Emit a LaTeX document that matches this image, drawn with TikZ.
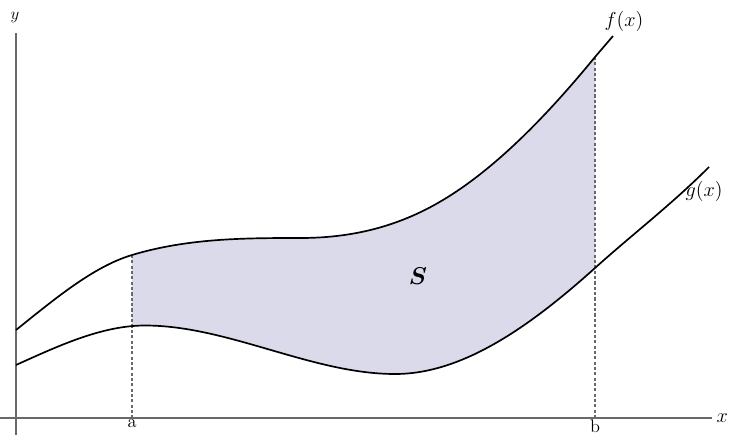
\documentclass[tikz,border=0pt]{standalone}
\usepackage{amsmath}
\usepackage{amssymb}
\usepackage{tikz}
\usetikzlibrary{positioning}

\definecolor{regionfill}{RGB}{218,218,235}
\definecolor{axisgray}{RGB}{105,105,105}

\tikzset{
    curve/.style={line width=1.2pt, black},
    axisline/.style={line width=0.9pt, axisgray},
    bound/.style={axisgray, line width=0.8pt, dash pattern=on 2.2pt off 1.6pt},
    lab/.style={inner sep=1pt, font=\Large},
    endlab/.style={inner sep=0pt, font=\fontsize{13}{15}\selectfont}
}

\begin{document}
\begin{tikzpicture}[x=0.025cm, y=-0.025cm]
    \useasboundingbox (0,0) rectangle (729,435);

    % shaded region between the curves
    \begin{scope}
    \clip (132,0) rectangle (595,435);
    \fill[regionfill] (16,330) .. controls (54.7,299) and (93.3,266.6) .. (132,255)
        .. controls (188,238.2) and (244,238) .. (300,238)
        .. controls (347.7,238) and (395.3,228.6) .. (443,200)
        .. controls (493.7,169.6) and (544.3,118.9) .. (595,57)
        -- (709,167)
        .. controls (671,205) and (633,233.8) .. (595,268)
        .. controls (528.3,328) and (461.7,374) .. (395,374)
        .. controls (312,374) and (228,325.5) .. (145,325.5)
        .. controls (102,325.5) and (59,345.6) .. (16,365) -- cycle;
    \end{scope}

    % axes
    \coordinate (xend) at (712,418);
    \coordinate (yend) at (16,33);
    \draw[axisline] (0,418) -- (xend);
    \draw[axisline] (16,435) -- (yend);
    \node[lab] (xlab) [right=2pt of xend] {$x$};
    \node[lab, font=\large] (ylab) at (15,18) {$y$};

    % bounds a and b
    \coordinate (fa) at (132,255);
    \coordinate (a0) at (132,418);
    \coordinate (fb) at (595,57);
    \coordinate (b0) at (595,418);
    \draw[bound] (fa) -- (a0);
    \draw[bound] (fb) -- (b0);
    \node[endlab] (alab) [below=1pt of a0] {a};
    \node[endlab] (blab) [below=1pt of b0] {b};

    % the two curves
    \draw[curve] (16,330) .. controls (54.7,299) and (93.3,266.6) .. (132,255)
        .. controls (188,238.2) and (244,238) .. (300,238)
        .. controls (347.7,238) and (395.3,228.6) .. (443,200)
        .. controls (493.7,169.6) and (544.3,118.9) .. (595,57)
        .. controls (601,50) and (607,43) .. (613,36);
    \draw[curve] (16,365) .. controls (59,345.6) and (102,325.5) .. (145,325.5)
        .. controls (228,325.5) and (312,374) .. (395,374)
        .. controls (461.7,374) and (528.3,328) .. (595,268)
        .. controls (633,233.8) and (671,205) .. (709,167);
    \node[lab] (flab) at (624,21) {$f(x)$};
    \node[lab, anchor=west] (glab) at (684,191) {$g(x)$};

    \node[font=\LARGE] (slab) at (418,276) {$\boldsymbol{S}$};
\end{tikzpicture}
\end{document}
